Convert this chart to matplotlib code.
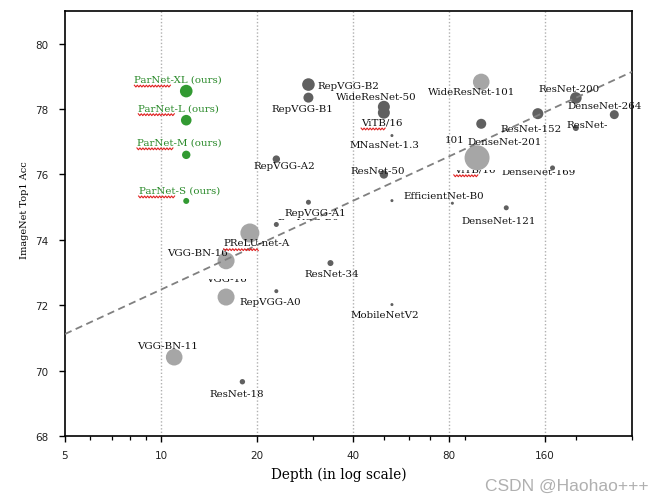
import matplotlib
matplotlib.use('Agg')
import numpy as np
import matplotlib.pyplot as plt
from matplotlib.ticker import NullFormatter, FixedLocator
from matplotlib.transforms import Bbox, IdentityTransform
from matplotlib.lines import Line2D

# ---------------- data ----------------
names = ['ParNet-S', 'ParNet-M', 'ParNet-L', 'ParNet-XL',
         'RepVGG-A0', 'RepVGG-A1', 'RepVGG-A2', 'RepVGG-B0', 'RepVGG-B1', 'RepVGG-B2',
         'ResNet-18', 'ResNet-34', 'ResNet-50', 'ResNet-101', 'ResNet-152', 'ResNet-200', 'ResNet-200b',
         'DenseNet-121', 'DenseNet-169', 'DenseNet-264',
         'MNasNet-1.3', 'EfficientNet-B0', 'EfficientNet-b', 'MobileNetV2',
         'WideResNet-50', 'ViTB/16',
         'WideResNet-101', 'ViT-L', 'PReLU-net-A', 'VGG-BN-16', 'VGG-16', 'VGG-BN-11']
depths = [12, 12, 12, 12,
          23, 23, 23, 29, 29, 29,
          18, 34, 50, 101, 152, 200, 200,
          121, 169, 264,
          53, 53, 82, 53,
          50, 50,
          101, 98, 19, 16, 16, 11]
accs = [75.19, 76.60, 77.66, 78.55,
        72.43, 74.47, 76.47, 75.15, 78.35, 78.75,
        69.66, 73.29, 76.00, 77.55, 77.86, 78.34, 77.42,
        74.98, 76.20, 77.83,
        77.19, 75.20, 75.12, 72.02,
        78.07, 77.89,
        78.83, 76.51, 74.21, 73.36, 72.25, 70.41]
bubble = [3.0, 4.2, 5.3, 6.3,
          2.0, 2.5, 3.7, 2.5, 5.0, 6.3,
          2.7, 3.0, 4.2, 5.0, 5.5, 5.8, 3.0,
          2.5, 2.5, 4.5,
          1.5, 1.5, 1.5, 1.5,
          6.0, 6.0,
          8.3, 12.5, 9.5, 8.5, 8.5, 8.3]
groups = ['ours'] * 4 + ['dark'] * 22 + ['light'] * 6

trend_depth = [5, 300]
trend_acc = [71.12, 79.14]

xticks = [5, 10, 20, 40, 80, 160]
xticklabels = ['5', '10', '20', '40', '80', '160']
yticks = [68, 70, 72, 74, 76, 78, 80]

# labels: text, anchor point, offset (pixels), ha, clip band in image rows (top, bottom), squiggled prefix
labels = [
    ('ParNet-XL (ours)', 'ParNet-XL', (-8, 12), 'center', None, 'ParNet'),
    ('ParNet-L (ours)', 'ParNet-L', (-7.5, 12.5), 'center', None, 'ParNet'),
    ('ParNet-M (ours)', 'ParNet-M', (-7, 13), 'center', None, 'ParNet'),
    ('ParNet-S (ours)', 'ParNet-S', (-7, 11), 'center', None, 'ParNet'),
    ('RepVGG-B2', 'RepVGG-B2', (9, -0.5), 'left', None, None),
    ('RepVGG-B1', 'RepVGG-B1', (-6, -10.5), 'center', None, None),
    ('WideResNet-50', 'WideResNet-50', (-7.5, 10), 'center', None, None),
    ('WideResNet-101', 'WideResNet-101', (-10, -10), 'center', None, None),
    ('ViTB/16', 'ViTB/16', (-2, -9.3), 'center', None, 'ViTB'),
    ('MNasNet-1.3', 'MNasNet-1.3', (-8, -8.6), 'center', None, None),
    ('101', 'ResNet-101', (-27, -16), 'center', None, None),
    ('DenseNet-201', 'ViT-L', (28, 16), 'center', None, None),
    ('ViTB/16', 'ViT-L', (-2.5, -11), 'center', (171, 600), 'ViTB'),
    ('DenseNet-169', 'DenseNet-169', (-13.5, -4), 'center', (171, 600), None),
    ('ResNet-152', 'ResNet-152', (-6.5, -15), 'center', None, None),
    ('ResNet-200', 'ResNet-200', (-6.7, 9.3), 'center', None, None),
    ('DenseNet-264', 'DenseNet-264', (-47, 8.7), 'left', None, None),
    ('ResNet-', 'ResNet-200b', (11, 4), 'center', None, None),
    ('ResNet-50', 'ResNet-50', (-6, 4), 'center', None, None),
    ('EfficientNet-B0', 'EfficientNet-B0', (52, 5), 'center', None, None),
    ('DenseNet-121', 'DenseNet-121', (-7.7, -12.7), 'center', (218, 600), None),
    ('MobileNetV2', 'MobileNetV2', (-7, -10.3), 'center', None, None),
    ('RepVGG-A2', 'RepVGG-A2', (7.5, -6.7), 'center', None, None),
    ('RepVGG-A1', 'RepVGG-A1', (39, 12.4), 'center', None, None),
    ('RepVGG-B0', 'RepVGG-A1', (32, 1.5), 'center', (216, 220.5), None),
    ('PReLU-net-A', 'PReLU-net-A', (7, -9.7), 'center', None, 'PReLU'),
    ('VGG-BN-16', 'VGG-BN-16', (-29, 8.3), 'center', None, None),
    ('VGG-16', 'VGG-16', (0.7, 19), 'center', (279.5, 600), None),
    ('RepVGG-A0', 'RepVGG-A0', (-6, -10), 'center', None, None),
    ('ResNet-34', 'ResNet-34', (1, -10.4), 'center', None, None),
    ('VGG-BN-11', 'VGG-BN-11', (-6.7, 11.3), 'center', None, None),
    ('ResNet-18', 'ResNet-18', (-5.5, -12), 'center', None, None),
]

# ---------------- style ----------------
W, H, DPI = 671, 502, 100
colors = {'ours': '#329a32', 'dark': '#606060', 'light': '#a6a6a6'}
text_colors = {'ours': '#2a8a2a', 'dark': '#111111', 'light': '#111111'}
serif = 'DejaVu Serif'
LABEL_FS = 7.4

fig = plt.figure(figsize=(W / DPI, H / DPI), dpi=DPI)
ax = fig.add_axes([65 / W, 1 - 437 / H, 567 / W, 425 / H])
ax.set_xscale('log')
ax.set_xlim(5, 300)
ax.set_ylim(68, 81)

# vertical dotted grid
for gx in xticks[1:]:
    ax.axvline(gx, color='#b0b0b0', linestyle=(0, (1, 1.5)), linewidth=1.0, zorder=0)

# bubbles
for g in ['light', 'dark', 'ours']:
    xs = [d for d, gg in zip(depths, groups) if gg == g]
    ys = [a for a, gg in zip(accs, groups) if gg == g]
    ss = [(1.44 * r) ** 2 for r, gg in zip(bubble, groups) if gg == g]
    ax.scatter(xs, ys, s=ss, color=colors[g], edgecolors='none', zorder=2)

# trend line
ax.plot(trend_depth, trend_acc, linestyle=(0, (4, 2.5)), color='#808080', linewidth=1.3, zorder=3)

# labels
idx = {n: i for i, n in enumerate(names)}
made = []
for text, anchor, (dx, dy), ha, clip, squig in labels:
    i = idx[anchor]
    col = text_colors[groups[i]]
    t = ax.annotate(text, xy=(depths[i], accs[i]), xytext=(dx, dy), textcoords='offset pixels',
                    ha=ha, va='center', fontsize=LABEL_FS, family=serif, color=col, zorder=4,
                    annotation_clip=False)
    cb = None
    if clip is not None:
        top, bot = clip
        cb = Bbox.from_extents(0, H - bot, W, H - top)
        t.set_clip_box(cb)
        t.set_clip_on(True)
    made.append((t, squig, cb))

# ticks
ax.xaxis.set_major_locator(FixedLocator(xticks))
ax.set_xticklabels(xticklabels)
ax.xaxis.set_minor_formatter(NullFormatter())
ax.set_yticks(yticks)
ax.set_yticklabels([str(v) for v in yticks])
ax.tick_params(axis='both', which='major', direction='out', length=4, width=1.0,
               labelsize=7.5, colors='#000000')
ax.tick_params(axis='x', which='major', pad=6)
ax.tick_params(axis='y', which='major', pad=8)
ax.tick_params(axis='x', which='minor', direction='out', length=3, width=0.9)
for lab in ax.get_xticklabels() + ax.get_yticklabels():
    lab.set_family('DejaVu Sans')
    lab.set_color('#222222')
for sp in ax.spines.values():
    sp.set_linewidth(1.2)
    sp.set_color('black')

ax.set_xlabel('Depth (in log scale)', fontsize=9.8, family=serif)
ax.xaxis.label.set_va('center')
ax.xaxis.set_label_coords((339 - 65) / 567, (437 - 475) / 425)
ax.set_ylabel('ImageNet Top1 Acc', fontsize=7.0, family=serif)
ax.yaxis.label.set_va('center')
ax.yaxis.set_label_coords((25 - 65) / 567, (437 - 210) / 425)

fig.text(567 / W, 1 - 486 / H, 'CSDN @Haohao+++', ha='center', va='center',
         fontsize=12.5, color='#b0b0b0', family='Liberation Sans')

# spell-check style red squiggles under some words (decoration)
fig.canvas.draw()
renderer = fig.canvas.get_renderer()
for t, squig, cb in made:
    if not squig:
        continue
    bb = t.get_window_extent(renderer)
    tmp = fig.text(0, 0, squig, fontsize=LABEL_FS, family=serif)
    w = tmp.get_window_extent(renderer).width
    tmp.remove()
    x0 = bb.x0
    cy = 0.5 * (bb.y0 + bb.y1)
    xs = np.arange(x0, x0 + w + 0.01, 1.5)
    ys = cy - 7.0 + np.where(np.arange(len(xs)) % 2 == 0, 0.9, -0.9)
    ln = Line2D(xs, ys, transform=IdentityTransform(), color='#e02020', linewidth=0.8)
    if cb is not None:
        ln.set_clip_box(cb)
        ln.set_clip_on(True)
    fig.add_artist(ln)

fig.savefig('out.png', dpi=DPI)
